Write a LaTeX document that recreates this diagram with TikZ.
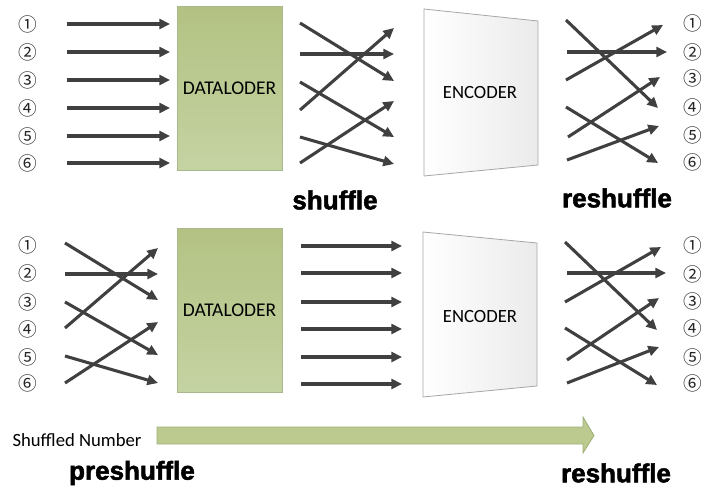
\documentclass[tikz,border=0pt]{standalone}
\usepackage{fontspec}
\setmainfont{Carlito}
\newfontfamily\circfont{Noto Sans CJK JP}
\newfontfamily\heavyfont[FakeBold=2]{Liberation Sans Bold}
\usetikzlibrary{arrows.meta}
\definecolor{arrgray}{HTML}{404040}
\definecolor{boxtop}{HTML}{B3C283}
\definecolor{boxbot}{HTML}{C4D3A2}
\definecolor{boxedge}{HTML}{A9B98C}
\definecolor{barfill}{HTML}{BCCA8F}
\definecolor{baredge}{HTML}{9DAF78}
\definecolor{encedge}{HTML}{A6A6A6}
\tikzset{
  arr/.style={draw=arrgray, line width=2.3pt, -{Triangle[length=8pt,width=7.5pt]}},
  numlabel/.style={font=\circfont\fontsize{14}{14}\selectfont, inner sep=0pt, text=black!85},
  loader/.style={draw=boxedge, line width=0.5pt, top color=boxtop, bottom color=boxbot,
    minimum width=78.75pt, minimum height=123pt, inner sep=0pt,
    font=\fontsize{14.6}{14.6}\selectfont},
  encshape/.style={draw=encedge, line width=0.6pt, left color=white, right color=black!8},
  enclabel/.style={font=\fontsize{14}{14}\selectfont, inner sep=0pt},
  tag/.style={font=\heavyfont\fontsize{19.5}{19.5}\selectfont, inner sep=0pt},
  plain/.style={font=\fontsize{14}{14}\selectfont, inner sep=0pt}
}
\begin{document}
\begin{tikzpicture}[x=0.75pt, y=-0.75pt]
\useasboundingbox (0,0) rectangle (703,486);

% ---------- upper pipeline ----------
\foreach \i/\y in {1/24,2/52,3/80,4/108,5/136,6/163}{
  \node[numlabel] (tl\i) at (28,\y) {\ifcase\i\or ①\or ②\or ③\or ④\or ⑤\or ⑥\fi};
  \coordinate (tla\i) at (67,\y);
  \coordinate (tlb\i) at (170,\y);
  \draw[arr] (tla\i) -- (tlb\i);
}
\node[loader] (load1) at (229.5,88) {DATALODER};

% shuffled connections between loader and encoder
\foreach \i/\ya/\yb in {1/23/81,2/54/54,3/110/28,4/82/137,5/163/101,6/137/164}{
  \coordinate (sa\i) at (300,\ya);
  \coordinate (sb\i) at (394,\yb);
  \draw[arr] (sa\i) -- (sb\i);
}

\draw[encshape] (424,9) -- (538,21) -- (538,165) -- (424,176) -- cycle;
\node[enclabel] (enc1) at (480,93) {ENCODER};

% reshuffled outputs
\foreach \i/\xa/\ya/\xb/\yb in {1/566/20/658/108,2/567/52/667/52,3/566/80/663/25,
                                 4/566/107/658/163,5/568/137/660/77,6/567/160/659/126}{
  \coordinate (ra\i) at (\xa,\ya);
  \coordinate (rb\i) at (\xb,\yb);
  \draw[arr] (ra\i) -- (rb\i);
}
\foreach \i/\y in {1/23,2/52,3/78,4/107,5/135,6/162}{
  \node[numlabel] (tr\i) at (693,\y) {\ifcase\i\or ①\or ②\or ③\or ④\or ⑤\or ⑥\fi};
}

\node[tag] (shuf) at (335,200) {shuffle};
\node[tag] (reshufA) at (617,198) {reshuffle};

% ---------- lower pipeline ----------
\foreach \i/\y in {1/245,2/273,3/302,4/329,5/357,6/383}{
  \node[numlabel] (bl\i) at (28,\y) {\ifcase\i\or ①\or ②\or ③\or ④\or ⑤\or ⑥\fi};
}
\foreach \i/\ya/\yb in {1/243/300,2/274/274,3/328/248,4/302/355,5/383/322,6/356/383}{
  \coordinate (pa\i) at (65,\ya);
  \coordinate (pb\i) at (158,\yb);
  \draw[arr] (pa\i) -- (pb\i);
}
\node[loader] (load2) at (229.5,310) {DATALODER};

\foreach \i/\y in {1/246,2/273,3/302,4/329,5/357,6/384}{
  \coordinate (ma\i) at (301,\y);
  \coordinate (mb\i) at (402,\y);
  \draw[arr] (ma\i) -- (mb\i);
}

\draw[encshape] (423,232) -- (537,243) -- (537,386) -- (423,397) -- cycle;
\node[enclabel] (enc2) at (480,316) {ENCODER};

\foreach \i/\xa/\ya/\xb/\yb in {1/565/242/657/330,2/567/273/666/273,3/565/302/661/247,
                                 4/565/328/657/385,5/567/360/659/298,6/567/383/659/347}{
  \coordinate (qa\i) at (\xa,\ya);
  \coordinate (qb\i) at (\xb,\yb);
  \draw[arr] (qa\i) -- (qb\i);
}
\foreach \i/\y in {1/245,2/274,3/301,4/328,5/357,6/383}{
  \node[numlabel] (br\i) at (693,\y) {\ifcase\i\or ①\or ②\or ③\or ④\or ⑤\or ⑥\fi};
}

% ---------- progress bar ----------
\node[plain] (shufnum) at (77,440) {Shuffled Number};
\draw[fill=barfill, draw=baredge, line width=0.6pt]
  (157,427) -- (583,427) -- (583,417) -- (594,435.5) -- (583,453) -- (583,444) -- (157,444) -- cycle;
\node[tag] (preshuf) at (132,473) {preshuffle};
\node[tag] (reshufB) at (616,473) {reshuffle};
\end{tikzpicture}
\end{document}
